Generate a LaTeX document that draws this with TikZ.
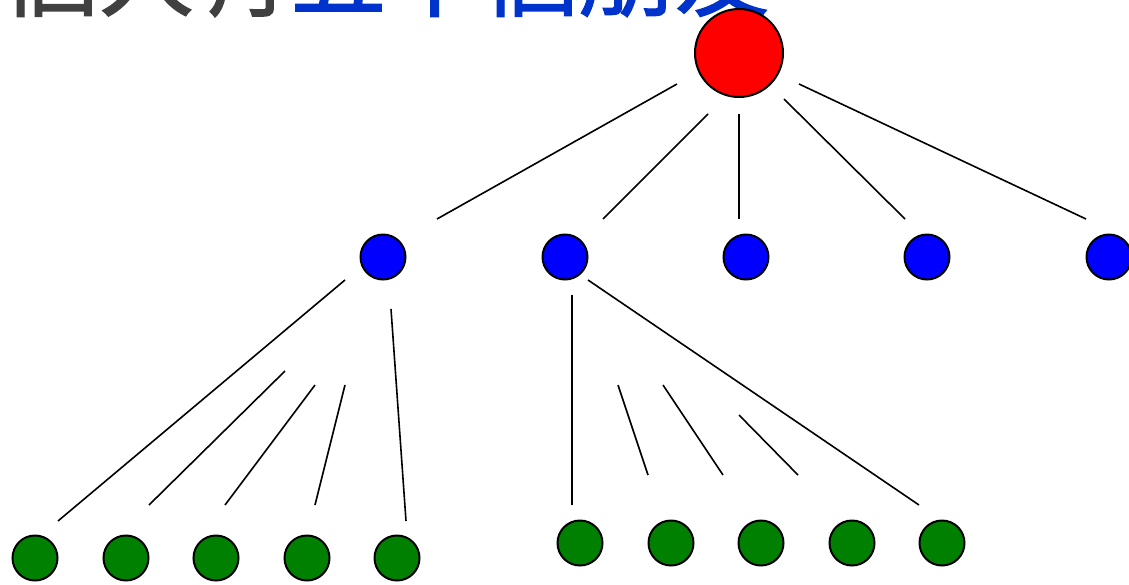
\documentclass[tikz,border=0pt]{standalone}
\usepackage{fontspec}
\newfontfamily\cjk[FakeBold=1.2]{Noto Sans CJK TC}
\definecolor{txtgray}{HTML}{404040}
\definecolor{txtblue}{HTML}{0033CC}
\definecolor{leafgreen}{HTML}{008000}
\tikzset{person/.style={circle, draw, line width=1pt, inner sep=0pt},
	me/.style={person, fill=red, minimum size=44pt},
	friend/.style={person, fill=blue, minimum size=22.5pt},
	fof/.style={person, fill=leafgreen, minimum size=22.5pt},
	link/.style={line width=0.8pt}}

\begin{document}
\begin{tikzpicture}[x=0.5pt,y=-0.5pt]
		\useasboundingbox (0,0) rectangle (1129,584);
		%		title, cut by the top edge
		\node[anchor=base west, inner sep=0pt, font=\cjk\fontsize{48}{48}\selectfont] (title) at (2,9)
			{\textcolor{txtgray}{個人有}\textcolor{txtblue}{五十個朋友}};
		\node[me] (root) at (739,53){};
		\foreach \i/\x in {1/383,2/565,3/746,4/927,5/1109}
			\node[friend] (f\i) at (\x,257){};
		\foreach \i/\x in {1/35,2/126,3/216,4/307,5/397}
			\node[fof] (g\i) at (\x,558){};
		\foreach \i/\x in {1/580,2/671,3/761,4/852,5/942}
			\node[fof] (h\i) at (\x,543){};
		%		loose lines, they do not touch the circles
		\foreach \n/\xa/\ya/\xb/\yb in {r1/677/84/437/219, r2/708/114/603/219, r3/739/114/739/219,
				r4/784/99/905/219, r5/799/84/1086/219,
				a1/345/280/58/521, a2/285/371/149/505, a3/315/385/225/505, a4/345/385/315/505, a5/391/309/406/521,
				b1/572/295/572/505, b2/618/385/648/475, b3/663/385/723/475, b4/739/415/798/475, b5/588/280/919/505}
		{
			\coordinate (\n s) at (\xa,\ya);
			\coordinate (\n e) at (\xb,\yb);
			\draw[link] (\n s) -- (\n e);
		}
\end{tikzpicture}
\end{document}
